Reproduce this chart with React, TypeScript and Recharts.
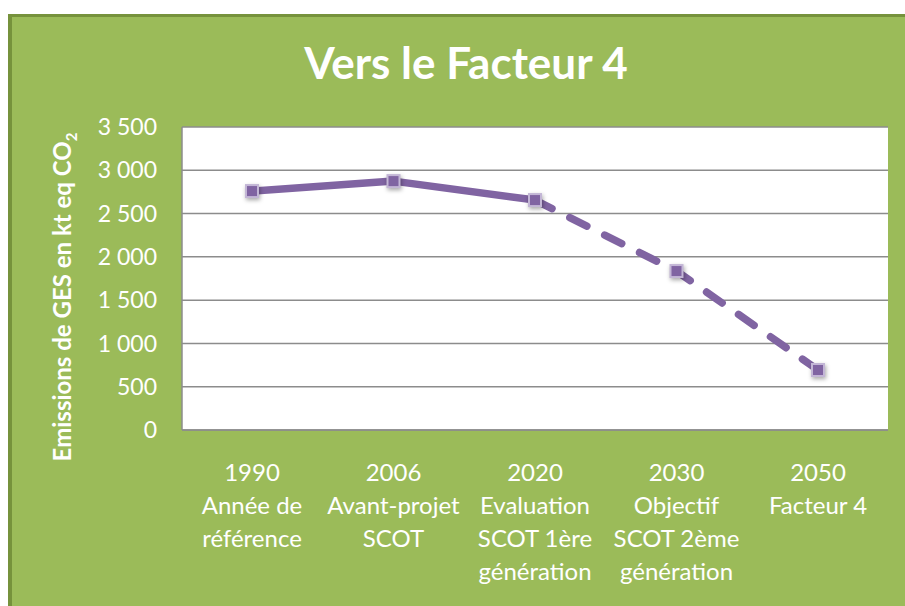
import React from "react";
import {
  LineChart,
  Line,
  XAxis,
  YAxis,
  CartesianGrid,
} from "recharts";

// Emissions de GES (kt eq CO2)
const years = ["1990", "2006", "2020", "2030", "2050"];
const labels = [
  ["Année de", "référence"],
  ["Avant-projet", "SCOT"],
  ["Evaluation", "SCOT 1ère", "génération"],
  ["Objectif", "SCOT 2ème", "génération"],
  ["Facteur 4"],
];
const measured = [2760, 2875, 2656, null, null];
const projected = [null, null, 2656, 1836, 693];
const yTicks = [0, 500, 1000, 1500, 2000, 2500, 3000, 3500];

const data = years.map((y, i) => ({
  year: y,
  measured: measured[i],
  projected: projected[i],
}));

const FONT = "Lato, 'Open Sans', sans-serif";
const PURPLE = "#8064A2";

const fmt = (v: number) => String(v).replace(/\B(?=(\d{3})+(?!\d))/g, " ");

const XTick = (props: any) => {
  const { x, y, payload, index } = props;
  const lines = [payload.value, ...labels[index]];
  return (
    <text x={x} y={y} textAnchor="middle" fill="#fff" fontFamily={FONT} fontSize={24}>
      {lines.map((l, k) => (
        <tspan key={k} x={x} dy={k === 0 ? 43 : 33}>
          {l}
        </tspan>
      ))}
    </text>
  );
};

const Marker = (skip: number) => (props: any) => {
  const { cx, cy, index, value } = props;
  if (value == null || index === skip || cx == null) return <g key={index} />;
  return (
    <rect
      key={index}
      x={cx - 6}
      y={cy - 6}
      width={12}
      height={12}
      fill={PURPLE}
      stroke="#C3B6D6"
      strokeWidth={2}
      style={{ filter: "drop-shadow(1px 2px 2px rgba(0,0,0,0.35))" }}
    />
  );
};

export default function App() {
  return (
    <div style={{ position: "absolute", left: 0, top: 0, width: 905, height: 606, overflow: "hidden" }}>
      <div
        style={{
          position: "absolute",
          left: 8,
          top: 14,
          width: 897,
          height: 592,
          boxSizing: "border-box",
          borderLeft: "4px solid #76923C",
          borderTop: "3px solid #76923C",
          background: "#9BBB59",
        }}
      >
        <LineChart
          width={893}
          height={589}
          data={data}
          margin={{ top: 110, right: 17, left: 0, bottom: 0 }}
        >
          <CartesianGrid
            vertical={false}
            stroke="#8C8C8C"
            strokeWidth={1.5}
            fill="#fff"
            fillOpacity={1}
          />
          <XAxis
            dataKey="year"
            height={176}
            padding={{ left: 70, right: 70 }}
            axisLine={{ stroke: "#8C8C8C", strokeWidth: 1.5 }}
            tickLine={false}
            tick={<XTick />}
            interval={0}
          />
          <YAxis
            width={170}
            domain={[0, 3500]}
            ticks={yTicks}
            tickFormatter={fmt}
            axisLine={{ stroke: "#8C8C8C", strokeWidth: 1.5 }}
            tickLine={false}
            tickSize={0}
            tickMargin={25}
            tick={{ fill: "#fff", fontFamily: FONT, fontSize: 23 }}
          />
          <Line
            dataKey="measured"
            stroke={PURPLE}
            strokeWidth={7.5}
            strokeLinecap="round"
            strokeLinejoin="round"
            dot={Marker(-1)}
            activeDot={false}
            isAnimationActive={false}
          />
          <Line
            dataKey="projected"
            stroke={PURPLE}
            strokeWidth={7.5}
            strokeDasharray="19 20"
            strokeLinecap="round"
            dot={Marker(2)}
            activeDot={false}
            isAnimationActive={false}
          />
        </LineChart>
      </div>
      <div
        style={{
          position: "absolute",
          left: 0,
          width: 932,
          top: 35,
          textAlign: "center",
          color: "#fff",
          fontFamily: FONT,
          fontWeight: 700,
          fontSize: 44,
          lineHeight: "54px",
        }}
      >
        Vers le Facteur 4
      </div>
      <div
        style={{
          position: "absolute",
          left: 62 - 200,
          top: 297 - 14,
          width: 400,
          height: 28,
          lineHeight: "28px",
          transform: "rotate(-90deg)",
          textAlign: "center",
          color: "#fff",
          fontFamily: FONT,
          fontWeight: 700,
          fontSize: 24,
          whiteSpace: "nowrap",
        }}
      >
        Emissions de GES en kt eq CO<sub style={{ fontSize: 15 }}>2</sub>
      </div>
    </div>
  );
}
